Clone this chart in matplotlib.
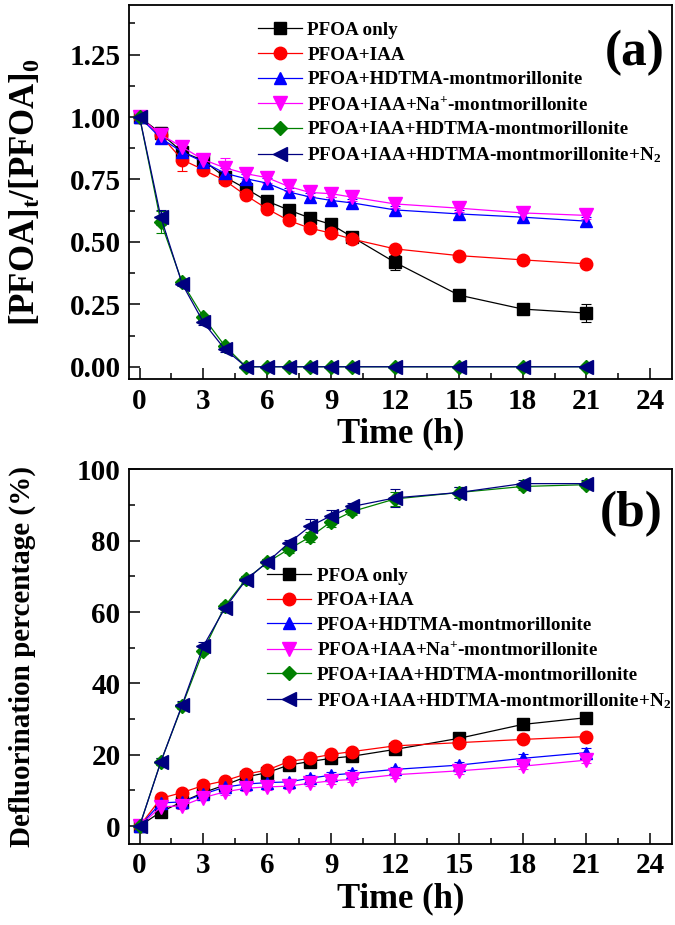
import matplotlib
matplotlib.use('Agg')
import matplotlib.pyplot as plt
from matplotlib.ticker import MultipleLocator, FormatStrFormatter

plt.rcParams['font.family'] = 'serif'
plt.rcParams['font.serif'] = ['Liberation Serif', 'DejaVu Serif']
plt.rcParams['font.weight'] = 'bold'
plt.rcParams['axes.labelweight'] = 'bold'
plt.rcParams['mathtext.fontset'] = 'custom'
plt.rcParams['mathtext.rm'] = 'Liberation Serif:bold'
plt.rcParams['mathtext.it'] = 'Liberation Serif:bold'
plt.rcParams['mathtext.bf'] = 'Liberation Serif:bold'

time_h = [0, 1, 2, 3, 4, 5, 6, 7, 8, 9, 10, 12, 15, 18, 21]

labels = ['PFOA only',
          'PFOA+IAA',
          'PFOA+HDTMA-montmorillonite',
          r'PFOA+IAA+Na$^\mathbf{+}$-montmorillonite',
          'PFOA+IAA+HDTMA-montmorillonite',
          r'PFOA+IAA+HDTMA-montmorillonite+N$_\mathbf{2}$']
colors = ['black', 'red', 'blue', 'magenta', 'green', 'navy']
markers = ['s', 'o', '^', 'v', 'D', '<']
msizes = [8.5, 9, 9, 9.5, 7.5, 9.5]

# (a) relative concentration
conc_pfoa = [1.00, 0.935, 0.86, 0.826, 0.76, 0.713, 0.663, 0.628, 0.596, 0.57, 0.519, 0.418, 0.287, 0.231, 0.215]
conc_iaa = [1.00, 0.926, 0.829, 0.789, 0.746, 0.686, 0.632, 0.586, 0.555, 0.535, 0.511, 0.472, 0.445, 0.428, 0.412]
conc_hdtma = [1.00, 0.915, 0.86, 0.82, 0.775, 0.753, 0.735, 0.70, 0.68, 0.666, 0.656, 0.628, 0.612, 0.599, 0.583]
conc_na = [1.00, 0.929, 0.88, 0.829, 0.797, 0.773, 0.757, 0.722, 0.698, 0.693, 0.679, 0.652, 0.635, 0.616, 0.606]
conc_iaa_hdtma = [1.00, 0.579, 0.338, 0.198, 0.084, 0, 0, 0, 0, 0, 0, 0, 0, 0, 0]
conc_iaa_hdtma_n2 = [1.00, 0.599, 0.332, 0.178, 0.071, 0, 0, 0, 0, 0, 0, 0, 0, 0, 0]

err_conc_pfoa = [0, 0.02, 0.015, 0.01, 0.01, 0.01, 0.01, 0.01, 0.01, 0.01, 0.01, 0.03, 0.01, 0.01, 0.035]
err_conc_iaa = [0, 0.025, 0.045, 0.01, 0.01, 0.01, 0.01, 0.01, 0.01, 0.01, 0.01, 0.01, 0.01, 0.01, 0.01]
err_conc_hdtma = [0, 0.02, 0.02, 0.01, 0.02, 0.02, 0.02, 0.015, 0.015, 0.015, 0.015, 0.015, 0.015, 0.015, 0.015]
err_conc_na = [0, 0.03, 0.02, 0.02, 0.04, 0.02, 0.02, 0.02, 0.015, 0.015, 0.015, 0.015, 0.015, 0.015, 0.015]
err_conc_iaa_hdtma = [0, 0.045, 0.01, 0.01, 0.01, 0, 0, 0, 0, 0, 0, 0, 0, 0, 0]
err_conc_iaa_hdtma_n2 = [0, 0.03, 0.01, 0.01, 0.01, 0, 0, 0, 0, 0, 0, 0, 0, 0, 0]

# (b) defluorination percentage
defl_pfoa = [0, 4.0, 6.8, 9.4, 11.5, 13.8, 15.0, 17.1, 18.1, 19.0, 19.6, 21.5, 24.6, 28.5, 30.4]
defl_iaa = [0, 7.8, 9.4, 11.4, 12.7, 14.6, 15.7, 18.1, 19.0, 20.1, 20.9, 22.5, 23.4, 24.3, 25.1]
defl_hdtma = [0, 6.5, 6.8, 9.0, 10.9, 11.8, 12.2, 12.4, 13.4, 14.3, 14.8, 15.9, 17.1, 19.0, 20.6]
defl_na = [0, 5.4, 5.7, 8.0, 9.6, 10.6, 11.0, 11.2, 12.0, 12.7, 13.1, 14.4, 15.5, 16.8, 18.5]
defl_iaa_hdtma = [0, 18.1, 33.7, 49.2, 61.6, 69.2, 73.9, 77.6, 81.0, 85.3, 88.2, 91.7, 93.5, 95.2, 95.7]
defl_iaa_hdtma_n2 = [0, 18.0, 34.0, 50.5, 61.0, 69.0, 74.0, 79.3, 84.0, 87.0, 89.6, 92.0, 93.5, 96.0, 96.0]

err_defl_pfoa = [0, 0.5, 0.5, 0.5, 0.5, 0.5, 0.5, 0.5, 0.5, 0.5, 0.5, 0.5, 0.8, 0.8, 0.8]
err_defl_iaa = [0, 0.5, 0.5, 0.5, 0.5, 0.5, 0.5, 0.8, 0.5, 0.5, 0.5, 0.8, 0.8, 0.8, 0.8]
err_defl_hdtma = [0, 0.8, 0.8, 0.8, 0.8, 0.8, 0.8, 0.8, 0.8, 0.8, 0.8, 0.8, 0.8, 1.2, 1.2]
err_defl_na = [0, 0.8, 0.8, 0.8, 0.8, 0.8, 0.8, 0.8, 0.8, 0.8, 0.8, 0.8, 0.8, 0.8, 0.8]
err_defl_iaa_hdtma = [0, 1.0, 1.0, 1.0, 1.0, 1.0, 1.0, 1.0, 1.5, 1.5, 1.0, 2.0, 1.5, 1.0, 1.0]
err_defl_iaa_hdtma_n2 = [0, 1.0, 1.0, 1.0, 1.0, 1.0, 1.0, 1.0, 2.0, 1.5, 1.0, 2.5, 1.5, 1.0, 1.0]

conc_sets = [conc_pfoa, conc_iaa, conc_hdtma, conc_na, conc_iaa_hdtma, conc_iaa_hdtma_n2]
conc_errs = [err_conc_pfoa, err_conc_iaa, err_conc_hdtma, err_conc_na, err_conc_iaa_hdtma, err_conc_iaa_hdtma_n2]
defl_sets = [defl_pfoa, defl_iaa, defl_hdtma, defl_na, defl_iaa_hdtma, defl_iaa_hdtma_n2]
defl_errs = [err_defl_pfoa, err_defl_iaa, err_defl_hdtma, err_defl_na, err_defl_iaa_hdtma, err_defl_iaa_hdtma_n2]

fig = plt.figure(figsize=(6.75, 9.25), dpi=100)
ax_a = fig.add_axes([0.191, 0.590, 0.804, 0.405])
ax_b = fig.add_axes([0.191, 0.0876, 0.804, 0.405])


def draw_panel(ax, sets, errs):
    handles = []
    for vals, err, c, m, ms in zip(sets, errs, colors, markers, msizes):
        h = ax.errorbar(time_h, vals, yerr=err, color=c, marker=m, markersize=ms,
                        linewidth=0.9, elinewidth=0.8, capsize=3.5, capthick=0.8)
        handles.append(h[0])
    ax.set_xlim(-0.5, 25)
    ax.xaxis.set_major_locator(MultipleLocator(3))
    ax.xaxis.set_minor_locator(MultipleLocator(1.5))
    ax.tick_params(which='both', direction='in', top=False, right=False,
                   labelsize=21, width=1.1)
    ax.tick_params(which='major', length=8, pad=6)
    ax.tick_params(which='minor', length=4.5)
    for sp in ax.spines.values():
        sp.set_linewidth(1.3)
    ax.set_xlabel('Time (h)', fontsize=25, labelpad=2)
    return handles


hand_a = draw_panel(ax_a, conc_sets, conc_errs)
ax_a.set_ylim(-0.05, 1.45)
ax_a.yaxis.set_minor_locator(MultipleLocator(0.125))
ax_a.set_yticks([0, 0.25, 0.5, 0.75, 1.0, 1.25])
ax_a.yaxis.set_major_formatter(FormatStrFormatter('%.2f'))
ax_a.set_ylabel(r'[PFOA]$_\mathbf{t}$/[PFOA]$_\mathbf{0}$', fontsize=25, va='center')
ax_a.yaxis.set_label_coords(-0.19, 0.5)
ax_a.text(0.932, 0.872, '(a)', transform=ax_a.transAxes, fontsize=37,
          ha='center', va='center')
ax_a.legend(hand_a, labels, loc='upper left', bbox_to_anchor=(0.237, 0.955), frameon=False,
            fontsize=13.8, numpoints=1, handlelength=2.3, handletextpad=0.3,
            labelspacing=0.38, borderpad=0, borderaxespad=0)

hand_b = draw_panel(ax_b, defl_sets, defl_errs)
ax_b.set_ylim(-5, 100)
ax_b.yaxis.set_major_locator(MultipleLocator(20))
ax_b.yaxis.set_minor_locator(MultipleLocator(10))
ax_b.set_ylabel('Defluorination percentage (%)', fontsize=21, va='center')
ax_b.yaxis.set_label_coords(-0.197, 0.5)
ax_b.text(0.926, 0.88, '(b)', transform=ax_b.transAxes, fontsize=37,
          ha='center', va='center')
ax_b.legend(hand_b, labels, loc='upper left', bbox_to_anchor=(0.255, 0.739), frameon=False,
            fontsize=13.8, numpoints=1, handlelength=2.3, handletextpad=0.3,
            labelspacing=0.38, borderpad=0, borderaxespad=0)

fig.savefig('out.png', dpi=100)
